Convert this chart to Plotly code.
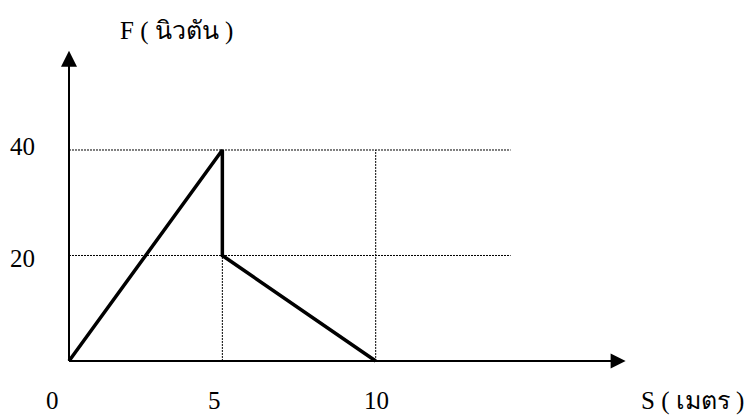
import plotly.graph_objects as go

# data
s_values = [0, 5, 5, 10]          # metres
f_values = [0, 40, 20, 0]         # newtons
x_ticks = [0, 5, 10]
x_tick_labels = ["0", "5", "10"]
y_ticks = [20, 40]
y_tick_labels = ["20", "40"]
x_title = "S ( เมตร )"
y_title = "F ( นิวตัน )"
x_axis_end = 18.15
y_axis_end = 58.8
grid_end = 14.4

font_family = "Liberation Serif, Times New Roman, serif"
FS = 25
DOT = "2px,1px"

fig = go.Figure()

# dotted guide lines
for yv in y_ticks:
    fig.add_trace(go.Scatter(x=[0, grid_end], y=[yv, yv], mode="lines",
                             line=dict(color="black", width=1, dash=DOT),
                             hoverinfo="skip", showlegend=False))
fig.add_trace(go.Scatter(x=[x_ticks[1], x_ticks[1]], y=[0, y_ticks[0]], mode="lines",
                         line=dict(color="black", width=1, dash=DOT),
                         hoverinfo="skip", showlegend=False))
fig.add_trace(go.Scatter(x=[x_ticks[2], x_ticks[2]], y=[0, y_ticks[1]], mode="lines",
                         line=dict(color="black", width=1, dash=DOT),
                         hoverinfo="skip", showlegend=False))

# axes with arrows
fig.add_trace(go.Scatter(x=[0, x_axis_end - 0.3], y=[0, 0], mode="lines",
                         line=dict(color="black", width=2), hoverinfo="skip", showlegend=False))
fig.add_trace(go.Scatter(x=[0, 0], y=[0, y_axis_end - 2], mode="lines",
                         line=dict(color="black", width=2), hoverinfo="skip", showlegend=False))
fig.add_trace(go.Scatter(x=[x_axis_end], y=[0], mode="markers",
                         marker=dict(symbol="arrow-right", size=15, color="black",
                                     line=dict(width=0)),
                         hoverinfo="skip", showlegend=False))
fig.add_trace(go.Scatter(x=[0], y=[y_axis_end], mode="markers",
                         marker=dict(symbol="arrow-up", size=16, color="black",
                                     line=dict(width=0)),
                         hoverinfo="skip", showlegend=False))

# main curve
fig.add_trace(go.Scatter(x=s_values, y=f_values, mode="lines",
                         line=dict(color="black", width=3.5),
                         hoverinfo="skip", showlegend=False))

font = dict(family=font_family, size=FS, color="black")
annotations = []
x_shifts = [-17, -8, 1]
for xv, lab, sh in zip(x_ticks, x_tick_labels, x_shifts):
    annotations.append(dict(x=xv, y=0, text=lab, showarrow=False, xshift=sh, yshift=-40,
                            font=font))
y_shifts = [-3, 3]
for yv, lab, sh in zip(y_ticks, y_tick_labels, y_shifts):
    annotations.append(dict(x=0, y=yv, text=lab, showarrow=False, xshift=-47, yshift=sh,
                            font=font))
annotations.append(dict(x=x_ticks[2], y=0, text=x_title, showarrow=False,
                        xshift=317, yshift=-40, font=font))
annotations.append(dict(x=0, y=y_axis_end, text=y_title, showarrow=False,
                        xshift=107, yshift=20, font=font))

# page body adds an 8px margin; figure is sized/ranged to compensate
fig.update_layout(
    width=748, height=409,
    margin=dict(l=0, r=0, t=0, b=0),
    paper_bgcolor="white", plot_bgcolor="white",
    xaxis=dict(range=[-1.989, 22.40], visible=False, fixedrange=True),
    yaxis=dict(range=[-10.62, 66.92], visible=False, fixedrange=True),
    annotations=annotations,
)

fig.write_html("out.html")
